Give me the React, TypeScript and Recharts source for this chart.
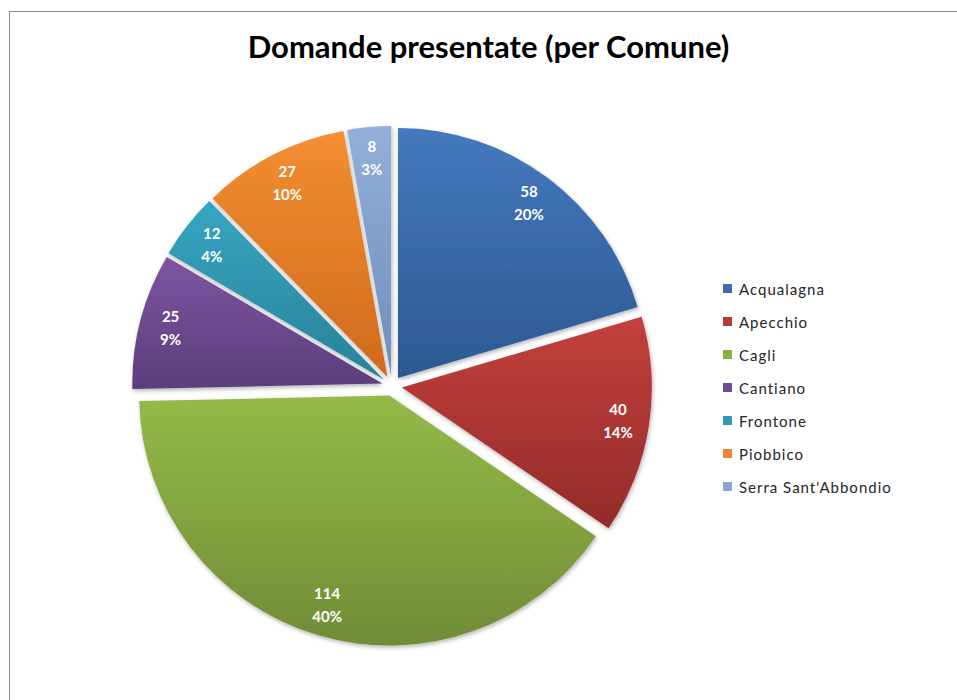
import React from 'react';
import { PieChart, Pie, Legend, Sector } from 'recharts';

const comuni = ['Acqualagna', 'Apecchio', 'Cagli', 'Cantiano', 'Frontone', 'Piobbico', "Serra Sant'Abbondio"];
const domande = [58, 40, 114, 25, 12, 27, 8];
const colorTop = ['#4479BE', '#C3403C', '#95BA48', '#7E55A2', '#36A6C2', '#F38E32', '#92B0D9'];
const colorBottom = ['#2C5891', '#932B29', '#6F8C36', '#5A3E7B', '#2A8199', '#CF6A1C', '#6F8EBD'];
const colorLegend = ['#3B6CAE', '#B23A37', '#8AAF44', '#6F4D93', '#3299B4', '#EE8530', '#87A5D1'];

const data = comuni.map((name, i) => ({ name, value: domande[i] }));

const RADIAN = Math.PI / 180;
const EXPLODE = 10;
const FONT = 'Lato, "Open Sans", "DejaVu Sans", sans-serif';

const renderSlice = (props: any) => {
  const { cx, cy, midAngle, innerRadius, outerRadius, startAngle, endAngle, index, value, percent } = props;
  const ux = Math.cos(-midAngle * RADIAN);
  const uy = Math.sin(-midAngle * RADIAN);
  const sx = cx + EXPLODE * ux;
  const sy = cy + EXPLODE * uy;
  const lr = outerRadius * 0.875;
  const lx = sx + lr * ux;
  const ly = sy + lr * uy;
  return (
    <g key={`slice-${index}`}>
      <Sector
        cx={sx}
        cy={sy}
        innerRadius={innerRadius}
        outerRadius={outerRadius}
        startAngle={startAngle}
        endAngle={endAngle}
        fill={`url(#grad${index})`}
        stroke="none"
        filter="url(#sliceShadow)"
      />
      <text x={lx} y={ly} textAnchor="middle" fill="#FFFFFF" fontFamily={FONT} fontWeight={700} fontSize={15}>
        <tspan x={lx} y={ly - 6}>{value}</tspan>
        <tspan x={lx} y={ly + 17}>{`${Math.round(percent * 100)}%`}</tspan>
      </text>
    </g>
  );
};

const renderLegend = (props: any) => {
  const { payload } = props;
  return (
    <div style={{ fontFamily: FONT, fontSize: 15, color: '#262626' }}>
      {(payload || []).map((entry: any, i: number) => (
        <div key={`leg-${i}`} style={{ height: 33, display: 'flex', alignItems: 'center' }}>
          <span style={{ display: 'inline-block', width: 9, height: 9, background: colorLegend[i], marginRight: 7 }} />
          <span style={{ letterSpacing: 1 }}>{entry.value}</span>
        </div>
      ))}
    </div>
  );
};

export default function App() {
  return (
    <div style={{ position: 'absolute', left: 0, top: 0, width: 957, height: 700, overflow: 'hidden', background: '#fff' }}>
      <div style={{ position: 'absolute', left: 9, top: 11, width: 980, height: 720, border: '1px solid #8A8A8A', boxSizing: 'border-box' }} />
      <div
        style={{
          position: 'absolute',
          left: 0,
          top: 27,
          width: 977,
          textAlign: 'center',
          fontFamily: FONT,
          fontWeight: 700,
          fontSize: 31,
          lineHeight: '38px',
          color: '#000',
        }}
      >
        Domande presentate (per Comune)
      </div>
      <div style={{ position: 'absolute', left: 0, top: 0 }}>
        <PieChart width={957} height={700} margin={{ top: 0, right: 0, bottom: 0, left: 0 }}>
          <defs>
            {colorTop.map((c, i) => (
              <linearGradient key={`g${i}`} id={`grad${i}`} x1="0" y1="0" x2="0" y2="1">
                <stop offset="0%" stopColor={c} />
                <stop offset="100%" stopColor={colorBottom[i]} />
              </linearGradient>
            ))}
            <filter id="sliceShadow" x="-20%" y="-20%" width="140%" height="140%">
              <feDropShadow dx="1" dy="2" stdDeviation="2" floodColor="#000" floodOpacity="0.3" />
            </filter>
          </defs>
          <Pie
            data={data}
            dataKey="value"
            nameKey="name"
            cx={392}
            cy={386}
            innerRadius={0}
            outerRadius={250}
            startAngle={90}
            endAngle={-270}
            fill="transparent"
            stroke="none"
            label={renderSlice}
            labelLine={false}
            isAnimationActive={false}
          />
          <Legend
            layout="vertical"
            align="right"
            verticalAlign="top"
            content={renderLegend}
            wrapperStyle={{ left: 723, top: 272, width: 220, right: 'auto', bottom: 'auto' }}
          />
        </PieChart>
      </div>
    </div>
  );
}
